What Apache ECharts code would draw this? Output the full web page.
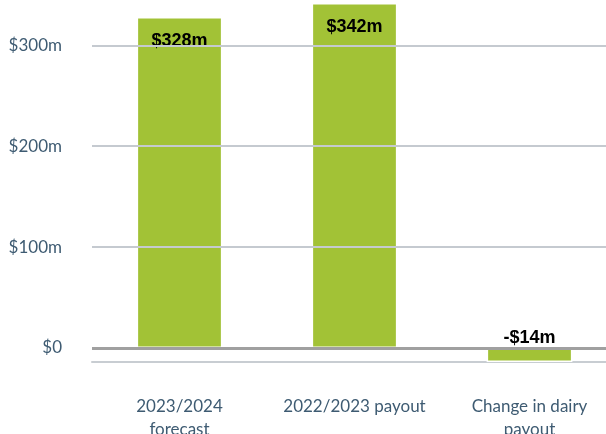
<!DOCTYPE html>
<html>
<head>
<meta charset="utf-8">
<script src="https://cdn.jsdelivr.net/npm/echarts@6/dist/echarts.min.js"></script>
<style>
  html, body { margin: 0; padding: 0; background: #fff; }
  #chart { width: 606px; height: 434px; }
</style>
</head>
<body>
<div id="chart"></div>
<script>
const categories = ["2023/2024\nforecast", "2022/2023 payout", "Change in dairy\npayout"];
const values = [328, 342, -14];
const gridValues = [100, 200, 300];
const tickValues = [0, 100, 200, 300];

const labelColor = "#3e5b72";
const barColor = "#a2c236";

const chart = echarts.init(document.getElementById("chart"));

const option = {
  animation: false,
  grid: { left: 92, width: 525, top: 3, bottom: 72, outerBoundsMode: "none", containLabel: false },
  xAxis: {
    type: "category",
    data: categories,
    axisLine: { show: true, onZero: false, lineStyle: { color: "#c8cdd2", width: 2 } },
    axisTick: { show: false },
    axisLabel: { interval: 0, color: labelColor, fontSize: 17, fontFamily: "Lato", margin: 33, lineHeight: 23 }
  },
  yAxis: {
    type: "value",
    min: -14,
    max: 342,
    splitLine: { show: false },
    axisLine: { show: false },
    axisTick: { show: false },
    axisLabel: {
      customValues: tickValues,
      color: labelColor,
      fontSize: 17,
      fontFamily: "Lato",
      margin: 30,
      formatter: v => "$" + v + (v === 0 ? "" : "m")
    }
  },
  series: [
    {
      type: "line",
      data: [null, null, null],
      showSymbol: false,
      silent: true,
      z: 1,
      markLine: {
        silent: true,
        symbol: "none",
        label: { show: false },
        data: gridValues.map(v => ({ yAxis: v, lineStyle: { color: "#c5cad0", width: 2, type: "solid" } }))
          .concat([{ yAxis: 0, lineStyle: { color: "#a0a0a0", width: 3, type: "solid" } }])
      }
    },
    {
      type: "bar",
      z: 3,
      data: values.map(v => ({
        value: v,
        label: v < 0 ? { position: "top", distance: 1 } : { position: "insideTop", distance: 15 }
      })),
      barWidth: "49%",
      itemStyle: { color: barColor, borderColor: "#fff", borderWidth: 1.5 },
      label: {
        show: true,
        color: "#000",
        fontSize: 18,
        fontWeight: 600,
        fontFamily: "Liberation Sans",
        formatter: p => (p.value < 0 ? "-$" + Math.abs(p.value) : "$" + p.value) + "m"
      }
    }
  ]
};

chart.setOption(option);
</script>
</body>
</html>
